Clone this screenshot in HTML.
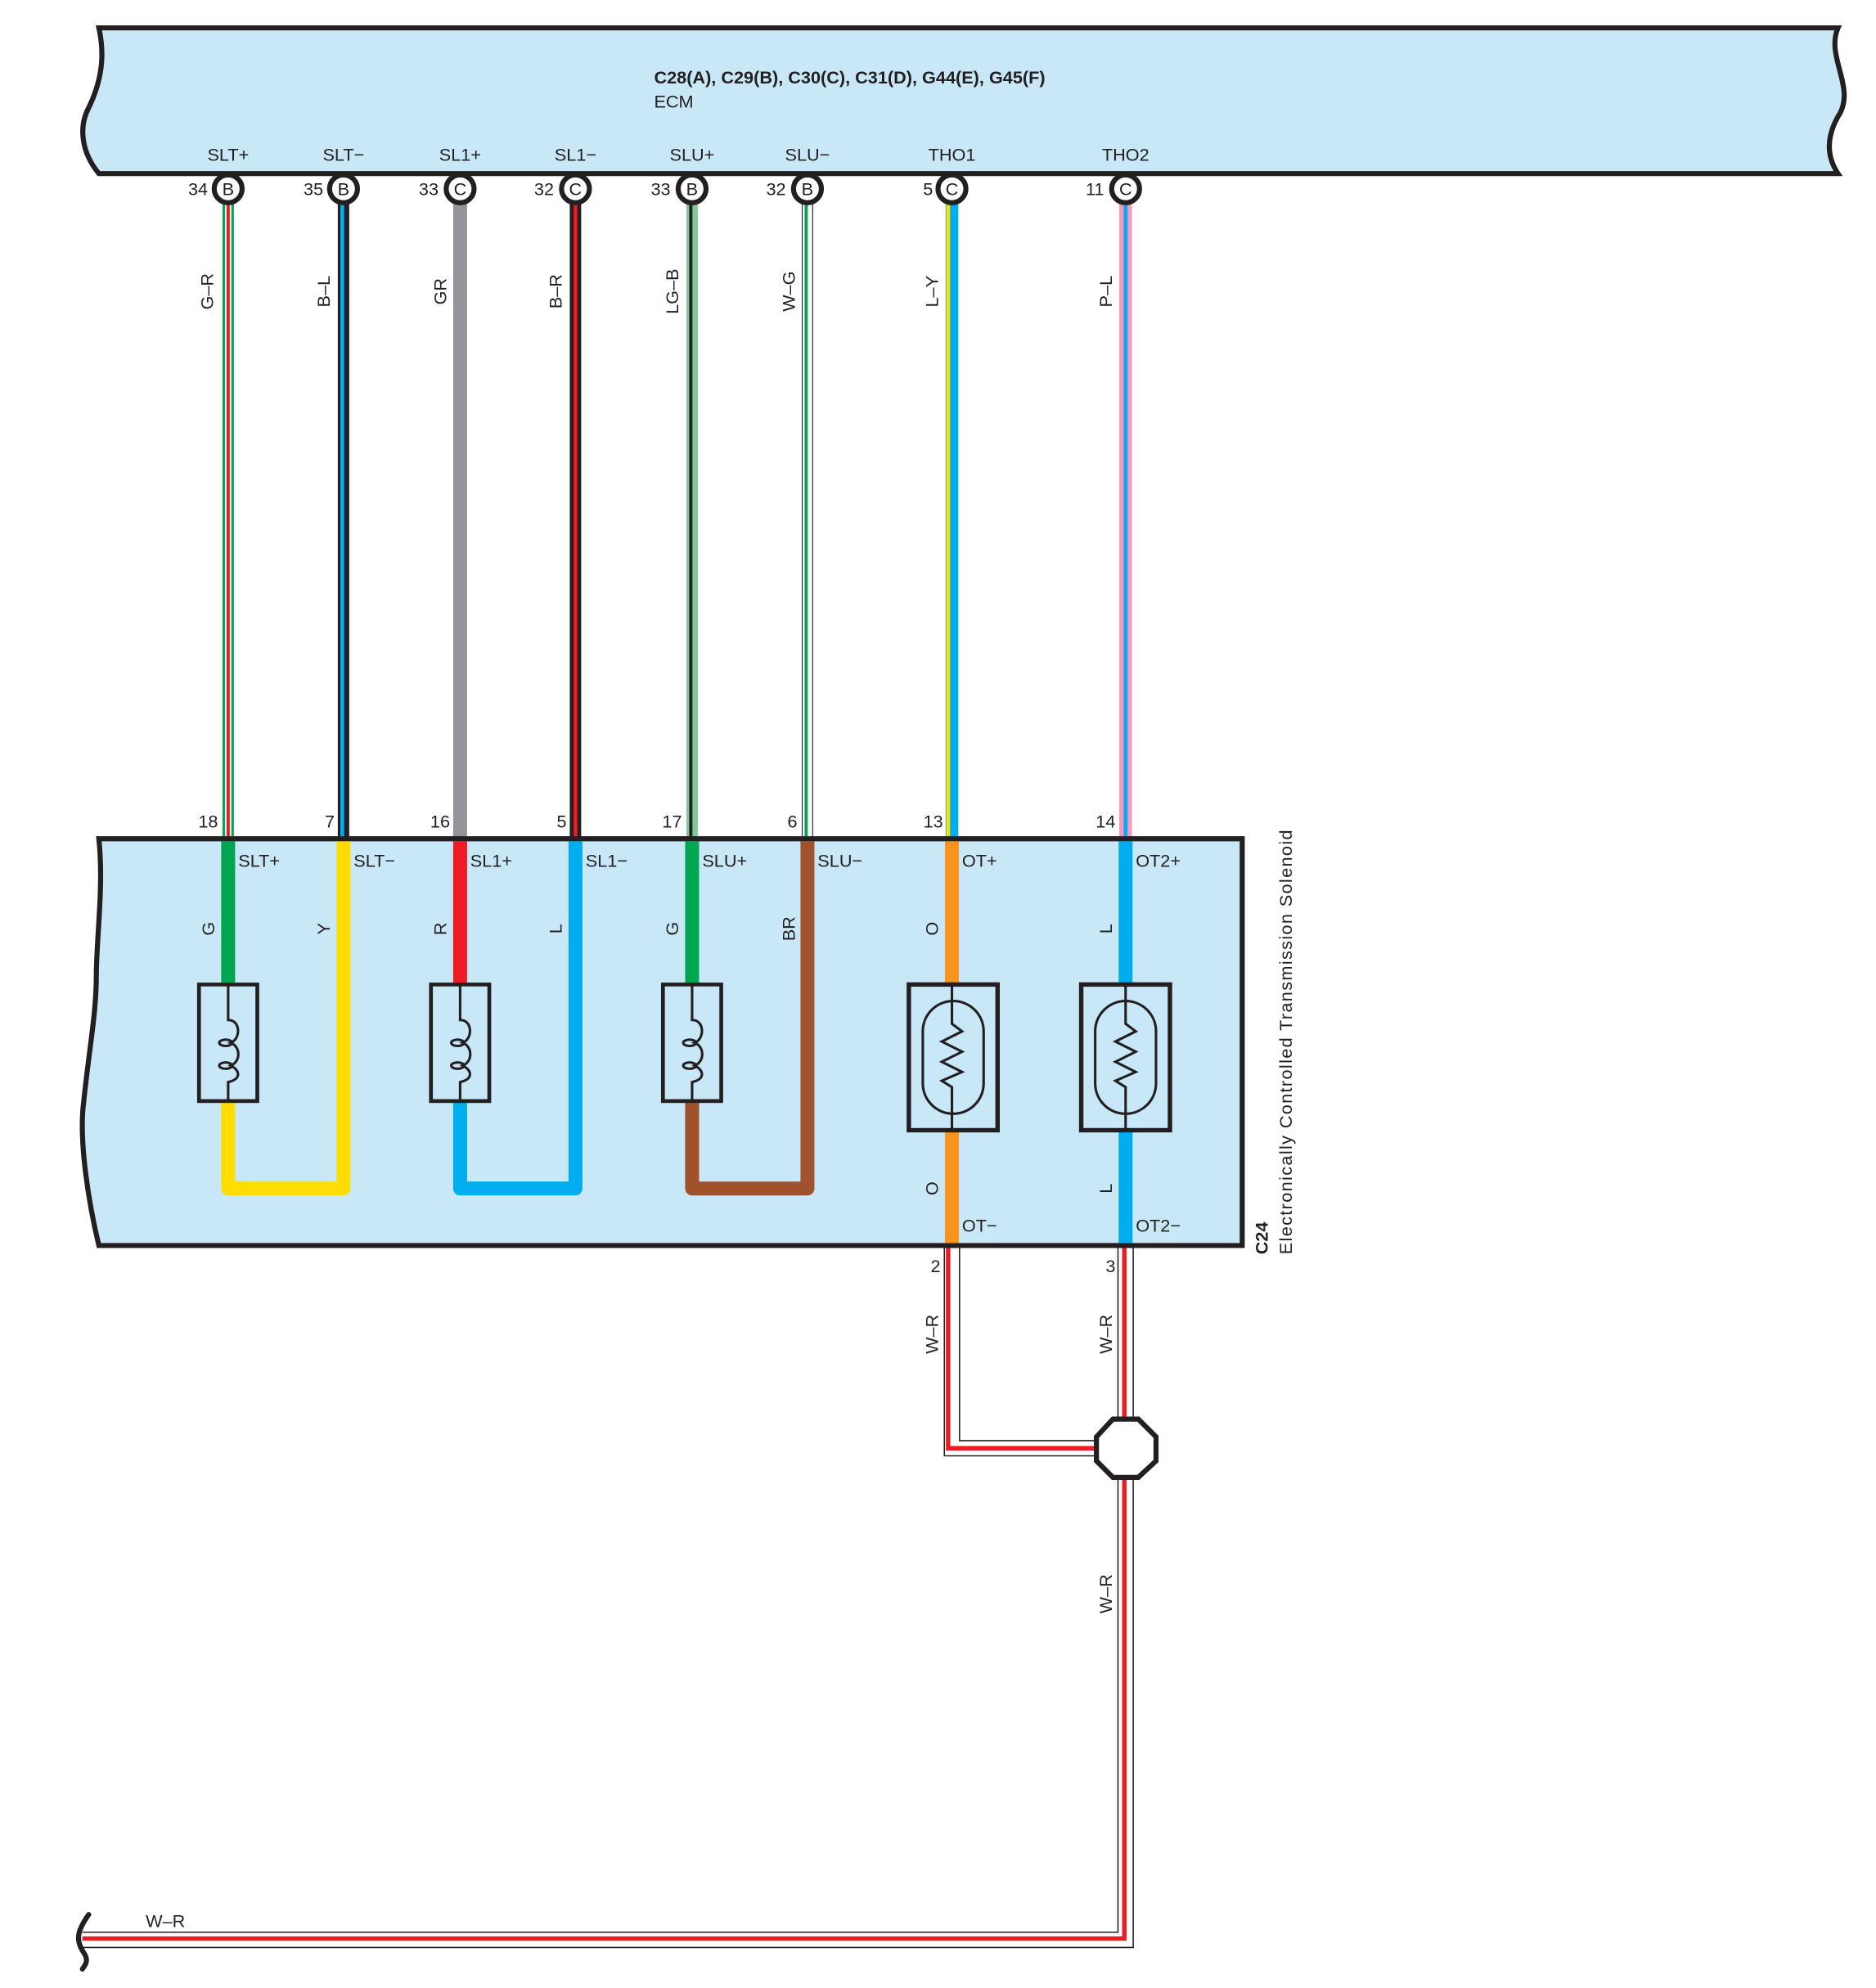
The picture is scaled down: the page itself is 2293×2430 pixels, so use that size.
<!DOCTYPE html>
<html><head><meta charset="utf-8"><style>
html,body{margin:0;padding:0;background:#fff;}
svg{display:block;}
text{font-family:"Liberation Sans",sans-serif;fill:#231f20;}
</style></head><body>
<svg width="2293" height="2430" viewBox="0 0 1480 1569" preserveAspectRatio="none" xmlns="http://www.w3.org/2000/svg">
<!-- ECM box -->
<path d="M78,22 L1450,22 C1440,45 1465,70 1450,92 C1440,110 1442,125 1450,137 L78,137 C64,120 62,100 70,85 C82,60 82,40 78,22 Z" fill="#c8e8f8" stroke="#231f20" stroke-width="4"/>
<text x="516" y="66" font-size="14" font-weight="bold">C28(A), C29(B), C30(C), C31(D), G44(E), G45(F)</text>
<text x="516" y="85" font-size="14">ECM</text>
<g font-size="14" text-anchor="middle">
<text x="180" y="127">SLT+</text><text x="271" y="127">SLT−</text><text x="363" y="127">SL1+</text><text x="454" y="127">SL1−</text>
<text x="546" y="127">SLU+</text><text x="637" y="127">SLU−</text><text x="751" y="127">THO1</text><text x="888" y="127">THO2</text>
</g>
<!-- Wires ECM to C24 -->
<g>
<line x1="180" y1="158" x2="180" y2="662" stroke="#00a651" stroke-width="9"/>
<line x1="180" y1="158" x2="180" y2="662" stroke="#fff" stroke-width="5"/>
<line x1="180" y1="158" x2="180" y2="662" stroke="#ed1c24" stroke-width="2.5"/>
<line x1="271" y1="158" x2="271" y2="662" stroke="#231f20" stroke-width="9"/>
<line x1="270" y1="158" x2="270" y2="662" stroke="#00aeef" stroke-width="3"/>
<line x1="363" y1="158" x2="363" y2="662" stroke="#939598" stroke-width="11"/>
<line x1="454" y1="158" x2="454" y2="662" stroke="#231f20" stroke-width="9"/>
<line x1="454" y1="158" x2="454" y2="662" stroke="#ed1c24" stroke-width="3"/>
<line x1="546" y1="158" x2="546" y2="662" stroke="#7fc89a" stroke-width="9"/>
<line x1="545" y1="158" x2="545" y2="662" stroke="#231f20" stroke-width="2.5"/>
<line x1="637" y1="158" x2="637" y2="662" stroke="#231f20" stroke-width="9"/>
<line x1="637" y1="158" x2="637" y2="662" stroke="#fff" stroke-width="7.5"/>
<line x1="636" y1="158" x2="636" y2="662" stroke="#00a651" stroke-width="2.5"/>
<line x1="751" y1="158" x2="751" y2="662" stroke="#00aeef" stroke-width="10"/>
<line x1="748" y1="158" x2="748" y2="662" stroke="#ffdd00" stroke-width="3"/>
<line x1="888" y1="158" x2="888" y2="662" stroke="#f49ac1" stroke-width="10"/>
<line x1="888" y1="158" x2="888" y2="662" stroke="#00aeef" stroke-width="3"/>
</g>
<!-- connector circles -->
<g fill="#fff" stroke="#231f20" stroke-width="4">
<circle cx="180" cy="149" r="11"/><circle cx="271" cy="149" r="11"/><circle cx="363" cy="149" r="11"/><circle cx="454" cy="149" r="11"/>
<circle cx="546" cy="149" r="11"/><circle cx="637" cy="149" r="11"/><circle cx="751" cy="149" r="11"/><circle cx="888" cy="149" r="11"/>
</g>
<g font-size="14" text-anchor="middle">
<text x="180" y="154">B</text><text x="271" y="154">B</text><text x="363" y="154">C</text><text x="454" y="154">C</text>
<text x="546" y="154">B</text><text x="637" y="154">B</text><text x="751" y="154">C</text><text x="888" y="154">C</text>
</g>
<g font-size="14" text-anchor="end">
<text x="164" y="154">34</text><text x="255" y="154">35</text><text x="346" y="154">33</text><text x="437" y="154">32</text>
<text x="529" y="154">33</text><text x="620" y="154">32</text><text x="736" y="154">5</text><text x="871" y="154">11</text>
</g>
<g font-size="14" text-anchor="middle">
<text transform="translate(168,230) rotate(-90)">G–R</text>
<text transform="translate(260,230) rotate(-90)">B–L</text>
<text transform="translate(352,230) rotate(-90)">GR</text>
<text transform="translate(443,230) rotate(-90)">B–R</text>
<text transform="translate(535,230) rotate(-90)">LG–B</text>
<text transform="translate(627,230) rotate(-90)">W–G</text>
<text transform="translate(740,230) rotate(-90)">L–Y</text>
<text transform="translate(877,230) rotate(-90)">P–L</text>
</g>
<g font-size="14" text-anchor="end">
<text x="172" y="653">18</text><text x="264" y="653">7</text><text x="355" y="653">16</text><text x="447" y="653">5</text>
<text x="538" y="653">17</text><text x="629" y="653">6</text><text x="744" y="653">13</text><text x="880" y="653">14</text>
</g>
<!-- C24 box -->
<path d="M78,662 L980,662 L980,983 L78,983 C70,950 62,900 66,870 C70,830 76,800 76,770 C76,740 82,700 78,662 Z" fill="#c8e8f8" stroke="#231f20" stroke-width="4"/>
<g fill="none" stroke-width="11" stroke-linejoin="round">
<line x1="180" y1="664" x2="180" y2="778" stroke="#00a651"/>
<path d="M180,868 L180,938 L271,938 L271,664" stroke="#ffdd00"/>
<line x1="363" y1="664" x2="363" y2="778" stroke="#ed1c24"/>
<path d="M363,868 L363,938 L454,938 L454,664" stroke="#00aeef"/>
<line x1="546" y1="664" x2="546" y2="778" stroke="#00a651"/>
<path d="M546,868 L546,938 L637,938 L637,664" stroke="#a0522d"/>
<line x1="751" y1="664" x2="751" y2="981" stroke="#f7941d"/>
<line x1="888" y1="664" x2="888" y2="981" stroke="#00aeef"/>
</g>
<g fill="#c8e8f8" stroke="#231f20" stroke-width="3">
<rect x="157" y="777" width="46" height="92"/>
<rect x="340" y="777" width="46" height="92"/>
<rect x="523" y="777" width="46" height="92"/>
</g>
<g fill="none" stroke="#231f20" stroke-width="2">
<path d="M180,777 L180,805 C190,805 190,820 182,823 C190,826 190,838 182,841 C190,845 190,852 180,854 L180,869"/>
<ellipse cx="178" cy="823" rx="5" ry="2.5"/><ellipse cx="178" cy="841" rx="5" ry="2.5"/>
<path d="M363,777 L363,805 C373,805 373,820 365,823 C373,826 373,838 365,841 C373,845 373,852 363,854 L363,869"/>
<ellipse cx="361" cy="823" rx="5" ry="2.5"/><ellipse cx="361" cy="841" rx="5" ry="2.5"/>
<path d="M546,777 L546,805 C556,805 556,820 548,823 C556,826 556,838 548,841 C556,845 556,852 546,854 L546,869"/>
<ellipse cx="544" cy="823" rx="5" ry="2.5"/><ellipse cx="544" cy="841" rx="5" ry="2.5"/>
</g>
<g stroke="#231f20" fill="#c8e8f8">
<rect x="717" y="777" width="70" height="115" stroke-width="3.5"/>
<rect x="853" y="777" width="70" height="115" stroke-width="3.5"/>
<rect x="728" y="790" width="48" height="89" rx="24" fill="none" stroke-width="2"/>
<rect x="864" y="790" width="48" height="89" rx="24" fill="none" stroke-width="2"/>
<path d="M751,777 L751,808 L759,814 L743,822 L759,830 L743,838 L759,846 L743,853 L751,858 L751,892" fill="none" stroke-width="2"/>
<path d="M888,777 L888,808 L896,814 L880,822 L896,830 L880,838 L896,846 L880,853 L888,858 L888,892" fill="none" stroke-width="2"/>
</g>
<g font-size="14">
<text x="188" y="684">SLT+</text><text x="279" y="684">SLT−</text><text x="371" y="684">SL1+</text><text x="462" y="684">SL1−</text>
<text x="554" y="684">SLU+</text><text x="645" y="684">SLU−</text><text x="759" y="684">OT+</text><text x="896" y="684">OT2+</text>
<text x="759" y="972">OT−</text><text x="896" y="972">OT2−</text>
</g>
<g font-size="14" text-anchor="middle">
<text transform="translate(169,733) rotate(-90)">G</text>
<text transform="translate(260,733) rotate(-90)">Y</text>
<text transform="translate(352,733) rotate(-90)">R</text>
<text transform="translate(443,733) rotate(-90)">L</text>
<text transform="translate(535,733) rotate(-90)">G</text>
<text transform="translate(627,733) rotate(-90)">BR</text>
<text transform="translate(740,733) rotate(-90)">O</text>
<text transform="translate(877,733) rotate(-90)">L</text>
<text transform="translate(740,938) rotate(-90)">O</text>
<text transform="translate(877,938) rotate(-90)">L</text>
</g>
<text transform="translate(1000,990) rotate(-90)" font-size="14" font-weight="bold">C24</text>
<text transform="translate(1019,990) rotate(-90)" font-size="14" textLength="335">Electronically Controlled Transmission Solenoid</text>
<g fill="none">
<path d="M751,985 L751,1143 L888,1143" stroke="#231f20" stroke-width="13"/>
<path d="M751,985 L751,1143 L888,1143" stroke="#fff" stroke-width="11"/>
<path d="M748,985 L748,1143 L888,1143" stroke="#ed1c24" stroke-width="3.5"/>
<path d="M888,985 L888,1531 L65,1531" stroke="#231f20" stroke-width="13"/>
<path d="M888,985 L888,1531 L65,1531" stroke="#fff" stroke-width="11"/>
<path d="M887,985 L887,1530 L65,1530" stroke="#ed1c24" stroke-width="3.5"/>
</g>
<polygon points="878,1120 898,1120 912,1134 912,1153 898,1166 878,1166 865,1153 865,1134" fill="#fff" stroke="#231f20" stroke-width="4"/>
<g font-size="14">
<text x="742" y="1004" text-anchor="end">2</text>
<text x="880" y="1004" text-anchor="end">3</text>
<text transform="translate(740,1053) rotate(-90)" text-anchor="middle">W–R</text>
<text transform="translate(877,1053) rotate(-90)" text-anchor="middle">W–R</text>
<text transform="translate(877,1258) rotate(-90)" text-anchor="middle">W–R</text>
<text x="115" y="1521">W–R</text>
</g>
<path d="M70,1511 C60,1525 60,1532 66,1541 C70,1547 68,1550 65,1554" fill="none" stroke="#231f20" stroke-width="4" stroke-linecap="round"/>
</svg>
</body></html>
